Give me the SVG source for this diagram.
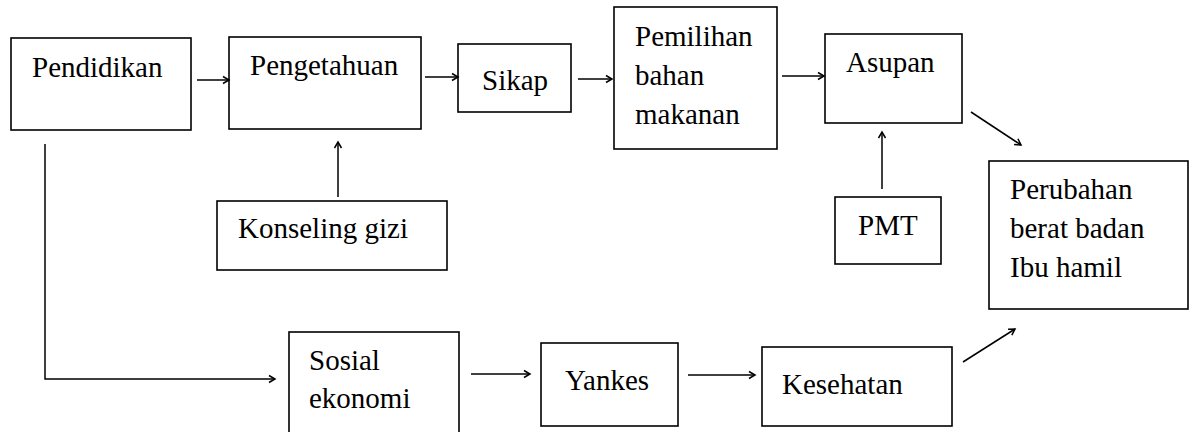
<svg xmlns="http://www.w3.org/2000/svg" width="1189" height="432" viewBox="0 0 1189 432">
<style>
.b{fill:#fff;stroke:#000;stroke-width:1.6}
.c line,.c path{stroke:#000;stroke-width:1.5;fill:none}
</style>
<defs>
<marker id="a" markerWidth="10" markerHeight="10" refX="8" refY="5" orient="auto" markerUnits="userSpaceOnUse">
<path d="M2,1.5 L8,5 L2,8.5" fill="none" stroke="#000" stroke-width="1.5"/>
</marker>
</defs>
<rect width="1189" height="432" fill="#fff"/>
<g id="pendidikan"><rect class="b" x="11" y="38" width="180" height="92"/><text x="32" y="77" font-family="Liberation Serif" font-size="29">Pendidikan</text></g>
<g id="pengetahuan"><rect class="b" x="229" y="37" width="192" height="92"/><text x="250" y="75" font-family="Liberation Serif" font-size="29">Pengetahuan</text></g>
<g id="sikap"><rect class="b" x="458" y="44" width="113" height="68"/><text x="482" y="90" font-family="Liberation Serif" font-size="29">Sikap</text></g>
<g id="pemilihan"><rect class="b" x="614" y="7" width="163" height="142"/><text x="635" y="46" font-family="Liberation Serif" font-size="29">Pemilihan</text><text x="635" y="85" font-family="Liberation Serif" font-size="29">bahan</text><text x="635" y="124" font-family="Liberation Serif" font-size="29">makanan</text></g>
<g id="asupan"><rect class="b" x="825" y="34" width="137" height="89"/><text x="846" y="72" font-family="Liberation Serif" font-size="29">Asupan</text></g>
<g id="konseling"><rect class="b" x="217" y="201" width="230" height="69"/><text x="238" y="238" font-family="Liberation Serif" font-size="29">Konseling gizi</text></g>
<g id="pmt"><rect class="b" x="835" y="197" width="106" height="67"/><text x="858" y="235" font-family="Liberation Serif" font-size="29">PMT</text></g>
<g id="perubahan"><rect class="b" x="989" y="161" width="199" height="148"/><text x="1010" y="199" font-family="Liberation Serif" font-size="29">Perubahan</text><text x="1010" y="238" font-family="Liberation Serif" font-size="29">berat badan</text><text x="1010" y="277" font-family="Liberation Serif" font-size="29">Ibu hamil</text></g>
<g id="sosial"><rect class="b" x="289" y="332" width="170" height="104"/><text x="309" y="370" font-family="Liberation Serif" font-size="29">Sosial</text><text x="309" y="408" font-family="Liberation Serif" font-size="29">ekonomi</text></g>
<g id="yankes"><rect class="b" x="541" y="343" width="137" height="83"/><text x="565" y="390" font-family="Liberation Serif" font-size="29">Yankes</text></g>
<g id="kesehatan"><rect class="b" x="762" y="347" width="190" height="79"/><text x="782" y="394" font-family="Liberation Serif" font-size="29">Kesehatan</text></g>
<g class="c" id="connectors">
<line x1="197" y1="80" x2="229" y2="80" marker-end="url(#a)"/>
<line x1="425" y1="77" x2="458" y2="77" marker-end="url(#a)"/>
<line x1="578" y1="79" x2="612" y2="79" marker-end="url(#a)"/>
<line x1="782" y1="76" x2="824" y2="76" marker-end="url(#a)"/>
<line x1="971" y1="112" x2="1021" y2="145" marker-end="url(#a)"/>
<line x1="338" y1="197" x2="338" y2="142" marker-end="url(#a)"/>
<line x1="882" y1="189" x2="882" y2="132" marker-end="url(#a)"/>
<path d="M45,144 L45,379 L275,379" marker-end="url(#a)"/>
<line x1="471" y1="374" x2="530" y2="374" marker-end="url(#a)"/>
<line x1="688" y1="375" x2="755" y2="375" marker-end="url(#a)"/>
<line x1="963" y1="362" x2="1015" y2="329" marker-end="url(#a)"/>
</g>
</svg>
